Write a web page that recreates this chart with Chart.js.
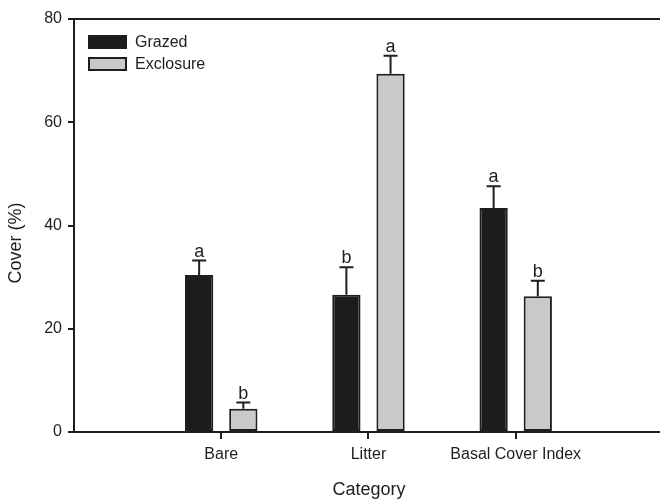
<!DOCTYPE html>
<html>
<head>
<meta charset="utf-8">
<script src="https://cdn.jsdelivr.net/npm/chart.js@4/dist/chart.umd.min.js"></script>
<style>
    body { margin: 0; background: #fff; }
    #wrap { width: 660px; height: 502px; position: relative; }
</style>
</head>
<body>
<div id="wrap"><canvas id="chart"></canvas></div>
<script>
// values
const categories = ['Bare', 'Litter', 'Basal Cover Index'];
const grazed = [30.4, 26.6, 43.4];
const grazedErr = [2.8, 5.3, 4.2];
const exclosure = [4.5, 69.4, 26.3];
const exclosureErr = [1.2, 3.5, 3.0];
const grazedLetters = ['a', 'b', 'a'];
const exclosureLetters = ['b', 'a', 'b'];
const yTicks = [0, 20, 40, 60, 80];

const ink = '#1e1e1e';
const font = '"Liberation Sans", Arial, sans-serif';

const errs = [grazedErr, exclosureErr];
const letters = [grazedLetters, exclosureLetters];

// error bars, letters, top frame line, legend and axis titles
const extras = {
    id: 'extras',
    afterDatasetsDraw(chart) {
        const ctx = chart.ctx;
        const y = chart.scales.y;
        const area = chart.chartArea;
        ctx.save();
        ctx.strokeStyle = ink;
        ctx.fillStyle = ink;
        ctx.lineWidth = 2;

        chart.data.datasets.forEach((ds, di) => {
            const meta = chart.getDatasetMeta(di);
            meta.data.forEach((bar, i) => {
                const v = ds.data[i].y;
                const top = y.getPixelForValue(v + errs[di][i]);
                const base = y.getPixelForValue(v);
                ctx.beginPath();
                ctx.moveTo(bar.x, base);
                ctx.lineTo(bar.x, top);
                ctx.moveTo(bar.x - 7, top);
                ctx.lineTo(bar.x + 7, top);
                ctx.stroke();

                ctx.font = '18px ' + font;
                ctx.textAlign = 'center';
                ctx.textBaseline = 'alphabetic';
                ctx.fillText(letters[di][i], bar.x, top - 4);
            });
        });

        // top line of the frame
        ctx.beginPath();
        ctx.moveTo(area.left, area.top);
        ctx.lineTo(area.right, area.top);
        ctx.stroke();

        // legend
        ctx.font = '16px ' + font;
        ctx.textAlign = 'left';
        ctx.textBaseline = 'middle';
        chart.data.datasets.forEach((ds, di) => {
            const ly = 36 + di * 22;
            ctx.fillStyle = ds.backgroundColor;
            ctx.fillRect(89, ly, 37, 12);
            ctx.strokeRect(89, ly, 37, 12);
            ctx.fillStyle = ink;
            ctx.fillText(ds.label, 135, ly + 7);
        });

        // axis titles
        ctx.font = '18px ' + font;
        ctx.textAlign = 'center';
        ctx.fillText('Category', 369, 490);
        ctx.translate(16, 243);
        ctx.rotate(-Math.PI / 2);
        ctx.fillText('Cover (%)', 0, 0);
        ctx.restore();
    }
};

new Chart(document.getElementById('chart'), {
    type: 'bar',
    data: {
        datasets: [
            {
                label: 'Grazed',
                data: grazed.map((v, i) => ({ x: i + 1, y: v })),
                backgroundColor: '#1c1c1c',
                borderColor: ink,
                borderWidth: 2,
                borderSkipped: false
            },
            {
                label: 'Exclosure',
                data: exclosure.map((v, i) => ({ x: i + 1, y: v })),
                backgroundColor: '#c8c9cb',
                borderColor: ink,
                borderWidth: 2,
                borderSkipped: false
            }
        ]
    },
    options: {
        responsive: true,
        maintainAspectRatio: false,
        animation: false,
        categoryPercentage: 0.6,
        barPercentage: 0.64,
        layout: { padding: { top: 19, left: 0, right: 0, bottom: 0 } },
        plugins: {
            legend: { display: false },
            tooltip: { enabled: false }
        },
        scales: {
            x: {
                type: 'linear',
                min: 0,
                max: 3.98,
                offset: false,
                afterBuildTicks: (scale) => {
                    scale.ticks = categories.map((c, i) => ({ value: i + 1 }));
                },
                afterFit: (scale) => { scale.height = 70; },
                ticks: {
                    callback: (v) => categories[v - 1],
                    color: ink,
                    font: { family: font, size: 16 },
                    padding: 6,
                    maxRotation: 0
                },
                grid: { offset: false, drawOnChartArea: false, tickLength: 7, color: ink, lineWidth: 2 },
                border: { color: ink, width: 2 }
            },
            y: {
                min: 0,
                max: 80,
                afterBuildTicks: (scale) => {
                    scale.ticks = yTicks.map(v => ({ value: v }));
                },
                afterFit: (scale) => { scale.width = 74; },
                ticks: {
                    color: ink,
                    font: { family: font, size: 16 },
                    padding: 6
                },
                grid: { drawOnChartArea: false, tickLength: 6, color: ink, lineWidth: 2 },
                border: { color: ink, width: 2 }
            }
        }
    },
    plugins: [extras]
});
</script>
</body>
</html>
